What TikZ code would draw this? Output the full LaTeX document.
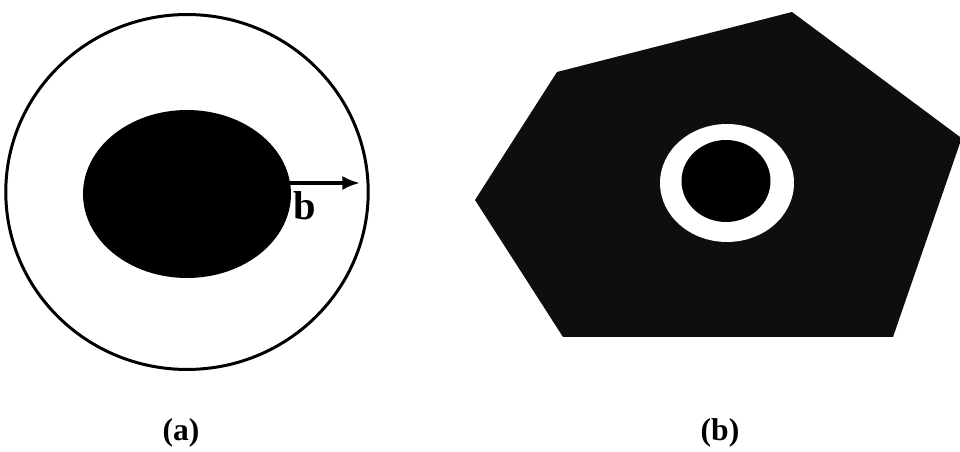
\documentclass[tikz,border=0pt]{standalone}
\usepackage{fontspec}
\setmainfont{Liberation Serif}
\usetikzlibrary{shapes.geometric, positioning, arrows.meta, calc}
\definecolor{stipple}{RGB}{14,14,14}

\begin{document}
\begin{tikzpicture}[x=0.02cm, y=-0.02cm, every node/.style={inner sep=0pt, outer sep=0pt}]
        \useasboundingbox (0,0) rectangle (960,452);

        % (a) shell and core
        \node[draw, ellipse, line width=1.7pt, minimum width=7.25cm, minimum height=7.1cm] (shell) at (187, 192) {};
        \node[ellipse, fill=black, minimum width=4.16cm, minimum height=3.36cm] (core) at (187, 194) {};
        \coordinate (tip) at (360, 183);
        \coordinate (foot) at (289, 183);
        \draw[-{Latex[length=10pt, width=8pt]}, line width=2pt] (foot) -- (tip);
        \node[font=\fontsize{23}{23}\selectfont\bfseries] (blabel) at (305, 206) {b};

        % (b) plate with hole
        \fill[stipple] (792, 12) -- (960, 137) -- (960, 143) -- (893, 337) -- (563, 337) -- (475, 200) -- (557, 72) -- cycle;
        \node[ellipse, fill=white, minimum width=2.68cm, minimum height=2.36cm] (ring) at (727, 183) {};
        \node[ellipse, fill=black, minimum width=1.78cm, minimum height=1.64cm] (hole) at (726, 181) {};

        % Captions
        \node[font=\fontsize{18}{18}\selectfont\bfseries] (capa) at (181, 433) {(a)};
        \node[font=\fontsize{18}{18}\selectfont\bfseries] (capb) at (720, 433) {(b)};
    \end{tikzpicture}
\end{document}
